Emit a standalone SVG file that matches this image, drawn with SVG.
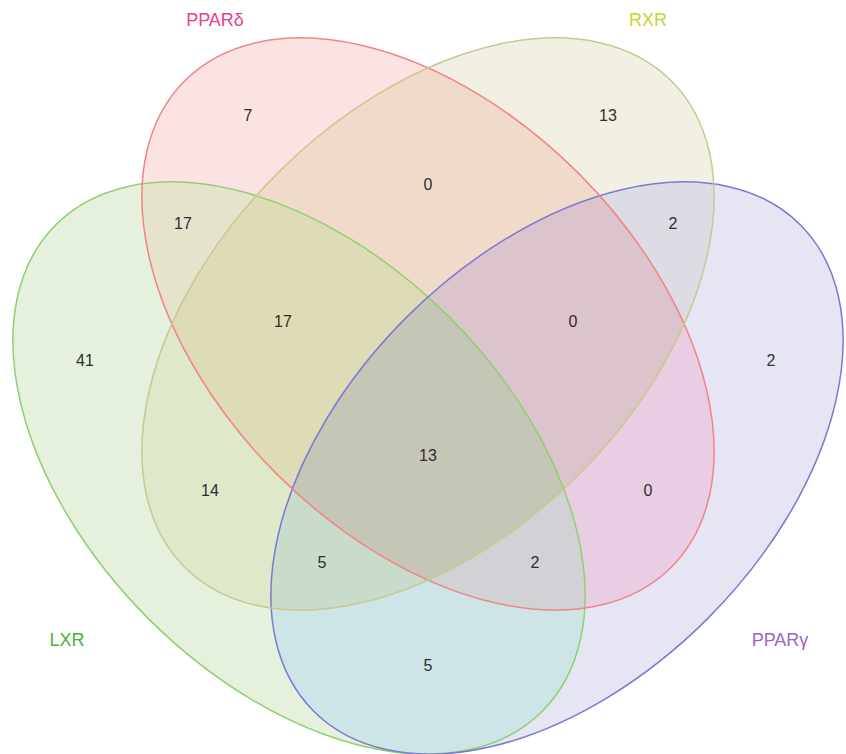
<svg xmlns="http://www.w3.org/2000/svg" xmlns:xlink="http://www.w3.org/1999/xlink" width="846" height="754" viewBox="0 0 846 754">
<style>
.num{font-family:"Liberation Sans",Arial,sans-serif;font-size:16px;fill:#2e2e2e;text-anchor:middle}
.lab{font-family:"Liberation Sans",Arial,sans-serif;font-size:18px;text-anchor:middle}
.edge{fill:none;stroke-width:1.5}
</style>
<defs>
<ellipse id="eR" cx="428" cy="324" rx="344" ry="213" transform="rotate(45 428 324)"/>
<ellipse id="eY" cx="428" cy="324" rx="344" ry="213" transform="rotate(-45 428 324)"/>
<ellipse id="eG" cx="299" cy="468" rx="344" ry="213" transform="rotate(45 299 468)"/>
<ellipse id="eB" cx="557" cy="468" rx="344" ry="213" transform="rotate(-45 557 468)"/>
<clipPath id="cR"><ellipse cx="428" cy="324" rx="344" ry="213" transform="rotate(45 428 324)"/></clipPath>
<clipPath id="cY"><ellipse cx="428" cy="324" rx="344" ry="213" transform="rotate(-45 428 324)"/></clipPath>
<clipPath id="cG"><ellipse cx="299" cy="468" rx="344" ry="213" transform="rotate(45 299 468)"/></clipPath>
<clipPath id="cB"><ellipse cx="557" cy="468" rx="344" ry="213" transform="rotate(-45 557 468)"/></clipPath>
</defs>
<rect width="846" height="754" fill="#ffffff"/>
<g id="regions">
<use xlink:href="#eG" fill="#e5f1dc"/>
<use xlink:href="#eB" fill="#e6e5f4"/>
<use xlink:href="#eR" fill="#fde2e3"/>
<use xlink:href="#eY" fill="#f1f0e3"/>
<g clip-path="url(#cY)"><use xlink:href="#eR" fill="#f0dac9"/></g>
<g clip-path="url(#cG)"><use xlink:href="#eR" fill="#e6e3cd"/></g>
<g clip-path="url(#cB)"><use xlink:href="#eR" fill="#e8cde3"/></g>
<g clip-path="url(#cG)"><use xlink:href="#eY" fill="#dde9c9"/></g>
<g clip-path="url(#cB)"><use xlink:href="#eY" fill="#dddce4"/></g>
<g clip-path="url(#cB)"><use xlink:href="#eG" fill="#cde5e6"/></g>
<g clip-path="url(#cY)"><g clip-path="url(#cG)"><use xlink:href="#eR" fill="#dddcb7"/></g></g>
<g clip-path="url(#cY)"><g clip-path="url(#cB)"><use xlink:href="#eR" fill="#dbc4cc"/></g></g>
<g clip-path="url(#cG)"><g clip-path="url(#cB)"><use xlink:href="#eR" fill="#d1d1d6"/></g></g>
<g clip-path="url(#cG)"><g clip-path="url(#cB)"><use xlink:href="#eY" fill="#c9dbcb"/></g></g>
<g clip-path="url(#cY)"><g clip-path="url(#cG)"><g clip-path="url(#cB)"><use xlink:href="#eR" fill="#c6c6b6"/></g></g></g>
</g>
<g id="set-LXR">
<use xlink:href="#eG" class="edge" stroke="#90d070"/>
<text class="lab" x="67" y="646" fill="#4fb030">LXR</text>
</g>
<g id="set-PPARg">
<use xlink:href="#eB" class="edge" stroke="#7a7ad2"/>
<text class="lab" x="780" y="646" fill="#9a66c4">PPARγ</text>
</g>
<g id="set-PPARd">
<use xlink:href="#eR" class="edge" stroke="#f08585"/>
<text class="lab" x="215" y="26" fill="#e8408f">PPARδ</text>
</g>
<g id="set-RXR">
<use xlink:href="#eY" class="edge" stroke="#c8c890"/>
<text class="lab" x="648" y="26" fill="#c8d232">RXR</text>
</g>
<g id="counts">
<text class="num" x="248" y="121">7</text>
<text class="num" x="608" y="121">13</text>
<text class="num" x="428" y="190">0</text>
<text class="num" x="183" y="229">17</text>
<text class="num" x="673" y="229">2</text>
<text class="num" x="283" y="327">17</text>
<text class="num" x="573" y="327">0</text>
<text class="num" x="85" y="366">41</text>
<text class="num" x="771" y="366">2</text>
<text class="num" x="428" y="461">13</text>
<text class="num" x="210" y="496">14</text>
<text class="num" x="648" y="496">0</text>
<text class="num" x="322" y="568">5</text>
<text class="num" x="535" y="568">2</text>
<text class="num" x="428" y="671">5</text>
</g>
</svg>
